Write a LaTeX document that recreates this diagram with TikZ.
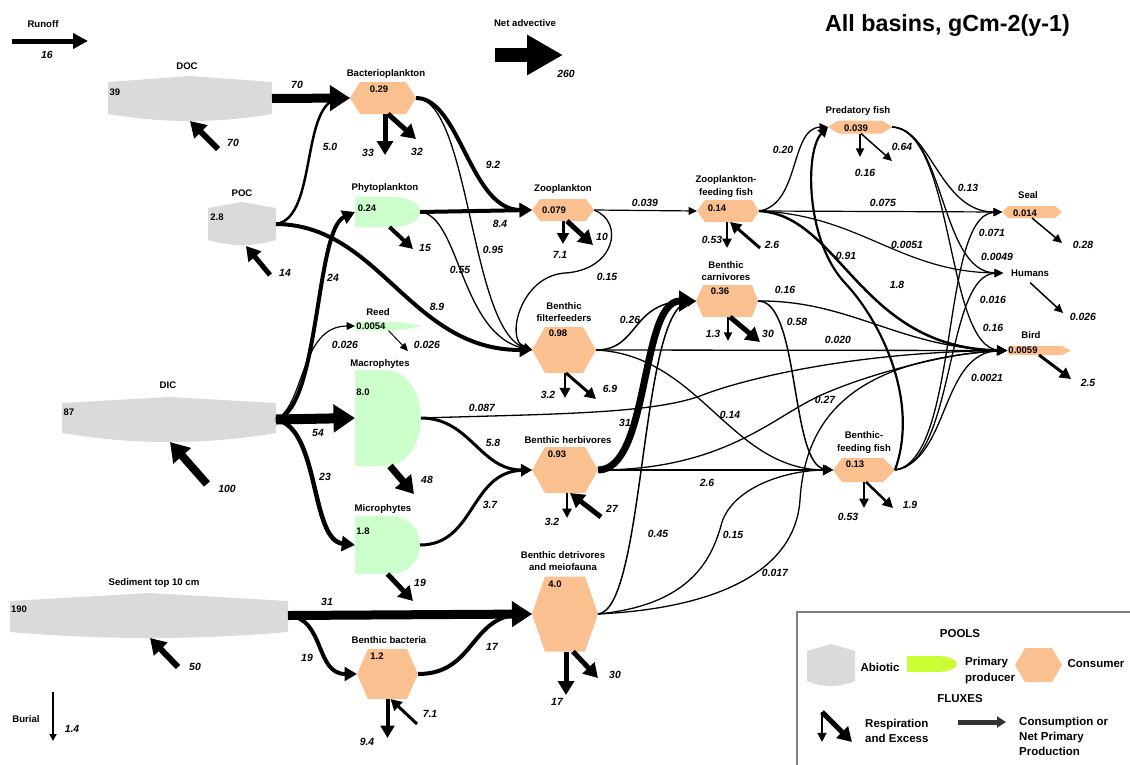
\documentclass[tikz,border=0pt]{standalone}
\usepackage{fontspec}
\setmainfont{Liberation Sans}
\usetikzlibrary{arrows.meta}
\definecolor{abio}{RGB}{218,218,218}
\definecolor{cons}{RGB}{250,192,143}
\definecolor{prod}{RGB}{204,255,204}
\definecolor{prodkey}{RGB}{204,255,51}
\definecolor{keyline}{RGB}{128,128,128}
\definecolor{keyarrow}{RGB}{51,51,51}

% hexagonal consumer pool: name, cx, cy, half width, half height, left tip, right tip
\newcommand\consumerpool[7]{%
  \fill[cons] ({#2-#4},#3) -- ({#2-#4+#6},{#3-#5}) -- ({#2+#4-#7},{#3-#5}) -- ({#2+#4},#3)
    -- ({#2+#4-#7},{#3+#5}) -- ({#2-#4+#6},{#3+#5}) -- cycle;
  \node[anchorbox, minimum width={2*#4pt}, minimum height={2*#5pt}] (#1) at (#2,#3) {};
}

\tikzset{
  anchorbox/.style={rectangle, draw=none, fill=none, inner sep=0pt, outer sep=0pt},
  flow/.style={draw=black, line width=1.3pt, -{Triangle[length=6.5pt 1.5, width=5pt 2.2]}},
  lw/.style={line width=#1},
  lab/.style={font=\fontsize{9.6}{11}\selectfont\bfseries, inner sep=0pt, text height=6.9pt, text depth=0pt},
  val/.style={font=\fontsize{9.5}{11}\selectfont\bfseries, inner sep=0pt, text height=6.8pt, text depth=0pt},
  flx/.style={font=\fontsize{10.4}{12}\selectfont\bfseries\itshape, inner sep=0pt, text height=7.5pt, text depth=0pt},
  keytxt/.style={font=\fontsize{11.5}{13}\selectfont\bfseries, inner sep=0pt, text height=8.3pt, text depth=0pt},
}

\begin{document}
\begin{tikzpicture}[x=1pt, y=-1pt]
\useasboundingbox (0,0) rectangle (1130,764);

% ---------- abiotic pools ----------
\fill[abio] (108,82) -- (190,76) -- (272,82) -- (272,114) .. controls (217,123.3) and (163,123.3) .. (108,114) -- cycle;
\node[anchorbox, minimum width=164pt, minimum height=45pt] (doc) at (190,98.5) {};
\fill[abio] (208,208) -- (242,202) -- (276,208) -- (276,240) .. controls (253,246.7) and (231,246.7) .. (208,240) -- cycle;
\node[anchorbox, minimum width=68pt, minimum height=44pt] (poc) at (242,224) {};
\fill[abio] (62,403) -- (169,397) -- (276,403) -- (276,433) .. controls (205,445) and (133,445) .. (62,433) -- cycle;
\node[anchorbox, minimum width=214pt, minimum height=45pt] (dic) at (169,419.5) {};
\fill[abio] (10,601) -- (149,593) -- (288,601) -- (288,632) .. controls (195,640) and (103,640) .. (10,632) -- cycle;
\node[anchorbox, minimum width=278pt, minimum height=45pt] (sed) at (149,615.5) {};

% ---------- primary producers ----------
\fill[prod] (355,197) -- (393,197) .. controls (410,197) and (420,204) .. (420,212) .. controls (420,220) and (410,227) .. (393,227) -- (355,227) -- cycle;
\node[anchorbox, minimum width=65pt, minimum height=30pt] (phyto) at (387.5,212) {};
\fill[prod] (355,321.5) -- (380,321.5) .. controls (400,321.5) and (414,324) .. (422,326) .. controls (414,328) and (400,330.5) .. (380,330.5) -- (355,330.5) -- cycle;
\node[anchorbox, minimum width=67pt, minimum height=9pt] (reed) at (388.5,326) {};
\fill[prod] (355,370) -- (385,370) .. controls (407,370) and (421,393) .. (421,418) .. controls (421,443) and (407,466) .. (385,466) -- (355,466) -- cycle;
\node[anchorbox, minimum width=66pt, minimum height=96pt] (macro) at (388,418) {};
\fill[prod] (355,516) -- (390,516) .. controls (408,516) and (420,529) .. (420,545) .. controls (420,561) and (408,574) .. (390,574) -- (355,574) -- cycle;
\node[anchorbox, minimum width=65pt, minimum height=58pt] (micro) at (387.5,545) {};

% ---------- consumers ----------
\consumerpool{bact}{383}{98}{33}{16}{10}{10}
\consumerpool{zoo}{563}{210}{31}{11}{8}{8}
\consumerpool{zff}{728}{211}{31}{11}{8}{7}
\consumerpool{pred}{860}{127}{32}{6.5}{10}{10}
\consumerpool{seal}{1032}{212}{30}{6}{6}{7}
\consumerpool{bird}{1039}{350.5}{32}{4.5}{2}{9}
\consumerpool{filt}{564}{350}{32}{23}{13}{13}
\consumerpool{carn}{727}{301}{31}{16}{7}{6}
\consumerpool{herb}{565}{470}{33}{23}{13}{13}
\consumerpool{bff}{864}{470}{31}{12}{9}{12}
\consumerpool{det}{565}{614}{33}{37.5}{13}{13}
\consumerpool{bbact}{387.5}{674}{30.5}{25}{11}{11}
\node[lab, anchor=west, inner xsep=8pt, inner ysep=0pt] (humans) at (1003,273) {Humans};

% ---------- consumption and production fluxes ----------
\draw[flow, lw=9pt] (doc.east) -- (bact.west);
\draw[flow, lw=2.5pt] (poc.east) .. controls (318,218) and (300,100) .. (bact.west);
\draw[flow, lw=4pt] (poc.east) .. controls (380,225) and (410,350) .. (filt.west);
\draw[flow, lw=4pt] (bact.east) .. controls (460,98) and (470,210) .. (zoo.west);
\draw[flow] (bact.east) .. controls (470,100) and (470,330) .. (filt.west);
\draw[flow, lw=4pt] (phyto.east) -- (zoo.west);
\draw[flow] (phyto.east) .. controls (460,215) and (460,335) .. (filt.west);
\draw[flow] (zoo.east) .. controls (625,222) and (615,270) .. (565,273) .. controls (520,276) and (505,340) .. (filt.west);
\draw[flow, lw=1.2pt] (zoo.east) -- (zff.west);
\draw[flow, lw=4pt] (dic.east) .. controls (320,410) and (315,230) .. (phyto.west);
\draw[flow, lw=1.2pt] (dic.east) .. controls (305,405) and (300,326) .. (reed.west);
\draw[flow, lw=10pt] (dic.east) -- (macro.west);
\draw[flow, lw=4.5pt] (dic.east) .. controls (320,428) and (310,540) .. (micro.west);
\draw[flow, lw=9pt] (sed.east) -- (det.west);
\draw[flow, lw=4pt] (sed.east) .. controls (325,618) and (315,674) .. (bbact.west);
\draw[flow, lw=4pt] (bbact.east) .. controls (475,674) and (470,616) .. (det.west);
\draw[flow, lw=3pt] (macro.east) .. controls (470,418) and (480,470) .. (herb.west);
\draw[flow] (macro.east) .. controls (550,414) and (650,414) .. (700,396) .. controls (740,380) and (850,352) .. (bird.west);
\draw[flow, lw=3pt] (micro.east) .. controls (475,545) and (470,472) .. (herb.west);
\draw[flow, lw=1.5pt] (filt.east) .. controls (640,350) and (630,301) .. (carn.west);
\draw[flow] (filt.east) -- (bird.west);
\draw[flow] (filt.east) .. controls (700,355) and (730,470) .. (bff.west);
\draw[flow, lw=1.5pt] (carn.east) .. controls (800,300) and (790,465) .. (bff.west);
\draw[flow] (carn.east) .. controls (850,300) and (900,348) .. (bird.west);
\draw[flow, lw=7pt] (herb.east) .. controls (650,470) and (640,301) .. (carn.west);
\draw[flow, lw=2.5pt] (herb.east) -- (bff.west);
\draw[flow] (herb.east) .. controls (720,470) and (770,420) .. (815,398) .. controls (860,376) and (950,352) .. (bird.west);
\draw[flow, lw=1.5pt] (det.east) .. controls (645,610) and (640,310) .. (carn.west);
\draw[flow] (det.east) .. controls (690,605) and (712,560) .. (722,522) .. controls (735,485) and (790,470) .. (bff.west);
\draw[flow] (det.east) .. controls (720,608) and (795,570) .. (800,500) .. controls (805,420) and (850,360) .. (bird.west);
\draw[flow] (zff.east) .. controls (800,205) and (790,128) .. (pred.west);
\draw[flow, lw=1.2pt] (zff.east) -- (seal.west);
\draw[flow, lw=1.2pt] (zff.east) .. controls (860,215) and (900,272) .. (humans.west);
\draw[flow, lw=2.5pt] (zff.east) .. controls (840,215) and (860,348) .. (bird.west);
\draw[flow, lw=2.2pt] (bff.east) .. controls (920,400) and (880,320) .. (845,283) .. controls (805,240) and (805,150) .. (pred.west);
\draw[flow] (pred.east) .. controls (930,127) and (940,212) .. (seal.west);
\draw[flow] (pred.east) .. controls (945,130) and (940,272) .. (humans.west);
\draw[flow] (pred.east) .. controls (955,130) and (945,348) .. (bird.west);
\draw[flow] (bff.east) .. controls (960,460) and (940,215) .. (seal.west);
\draw[flow] (bff.east) .. controls (955,465) and (945,275) .. (humans.west);
\draw[flow] (bff.east) .. controls (950,460) and (940,352) .. (bird.west);

% ---------- respiration, excess and import ----------
\coordinate (bact-r) at (385,155);   \coordinate (bact-e) at (416,139);
\coordinate (phyto-e) at (413,249);
\coordinate (zoo-r) at (563,244);    \coordinate (zoo-e) at (593,245);
\coordinate (zff-r) at (727,248);    \coordinate (zff-i) at (760,248);
\coordinate (pred-r) at (860,157);   \coordinate (pred-e) at (892,161);
\coordinate (filt-r) at (565,398);   \coordinate (filt-e) at (596,399);
\coordinate (carn-r) at (728,341);   \coordinate (carn-e) at (760,342);
\coordinate (herb-r) at (567,518);   \coordinate (herb-i) at (601,517);
\coordinate (bff-r) at (864,508);    \coordinate (bff-e) at (893,508);
\coordinate (det-r) at (566,695);    \coordinate (det-e) at (598,678);
\coordinate (bbact-r) at (387.5,738);\coordinate (bbact-i) at (417,724);
\coordinate (macro-e) at (414,494);
\coordinate (micro-e) at (413,601);
\coordinate (reed-e) at (408,351);
\coordinate (seal-e) at (1062,243);
\coordinate (bird-e) at (1071,379);
\coordinate (hum-e) at (1063,313);
\coordinate (doc-i) at (218,149);
\coordinate (poc-i) at (270,275);
\coordinate (dic-i) at (207,484);
\coordinate (sed-i) at (178,667);

\draw[flow, lw=5pt] ([xshift=2pt]bact.south) -- (bact-r);
\draw[flow, lw=5pt] ([xshift=5pt]bact.south) -- (bact-e);
\draw[flow, lw=4pt] ([xshift=2pt]phyto.south) -- (phyto-e);
\draw[flow, lw=3pt] (zoo.south) -- (zoo-r);
\draw[flow, lw=5pt] ([xshift=4pt]zoo.south) -- (zoo-e);
\draw[flow, lw=2pt] ([xshift=-1pt]zff.south) -- (zff-r);
\draw[flow, lw=3pt] (zff-i) -- ([xshift=2pt]zff.south);
\draw[flow, lw=1.5pt] (pred.south) -- (pred-r);
\draw[flow, lw=1.5pt] ([xshift=1pt]pred.south) -- (pred-e);
\draw[flow, lw=2.5pt] ([xshift=1pt]filt.south) -- (filt-r);
\draw[flow, lw=3pt] ([xshift=2pt]filt.south) -- (filt-e);
\draw[flow, lw=1.5pt] ([xshift=1pt]carn.south) -- (carn-r);
\draw[flow, lw=5pt] ([xshift=3pt]carn.south) -- (carn-e);
\draw[flow, lw=2pt] ([xshift=2pt]herb.south) -- (herb-r);
\draw[flow, lw=5pt] (herb-i) -- ([xshift=5pt]herb.south);
\draw[flow, lw=2pt] (bff.south) -- (bff-r);
\draw[flow, lw=2.5pt] ([xshift=2pt]bff.south) -- (bff-e);
\draw[flow, lw=5pt] ([xshift=1pt]det.south) -- (det-r);
\draw[flow, lw=5pt] ([xshift=8pt]det.south) -- (det-e);
\draw[flow, lw=4pt] (bbact.south) -- (bbact-r);
\draw[flow, lw=3pt] (bbact-i) -- ([xshift=3pt]bbact.south);
\draw[flow, lw=7pt] ([xshift=2pt]macro.south) -- (macro-e);
\draw[flow, lw=5pt] (micro.south) -- (micro-e);
\draw[flow, lw=1pt] (reed.south) -- (reed-e);
\draw[flow, lw=1.5pt] (seal.south) -- (seal-e);
\draw[flow, lw=3pt] (bird.south) -- (bird-e);
\draw[flow, lw=1.5pt] ([yshift=-6pt]humans.south) -- (hum-e);
\draw[flow, lw=6pt] (doc-i) -- (doc.south);
\draw[flow, lw=5pt] (poc-i) -- ([xshift=4pt]poc.south);
\draw[flow, lw=8pt] (dic-i) -- ([xshift=1pt]dic.south);
\draw[flow, lw=6pt] (sed-i) -- ([xshift=1pt]sed.south);

% ---------- boundary fluxes ----------
\coordinate (runoff0) at (12,41);  \coordinate (runoff1) at (88,41);
\draw[lw=5pt, -{Triangle[length=15pt, width=15pt]}] (runoff0) -- (runoff1);
\coordinate (adv0) at (495,55);    \coordinate (adv1) at (563,55);
\draw[lw=14pt, -{Triangle[length=36pt, width=38pt]}] (adv0) -- (adv1);
\coordinate (burial0) at (53,692); \coordinate (burial1) at (53,741);
\draw[lw=2pt, -{Triangle[length=7pt, width=7pt]}] (burial0) -- (burial1);

% ---------- pool names and stocks ----------
\node[anchor=base east, inner sep=0pt, font=\fontsize{23.3}{27}\selectfont\bfseries] (title) at (1070,31) {All basins, gCm-2(y-1)};
\node[lab] (l-runoff) at (43,24) {Runoff};
\node[lab] (l-adv) at (525,23) {Net advective};
\node[lab] (l-burial) at (26,719) {Burial};
\node[lab] (l-doc) at (187,66) {DOC};        \node[val] (v-doc) at (115,92) {39};
\node[lab] (l-poc) at (242,193) {POC};       \node[val] (v-poc) at (217,217) {2.8};
\node[lab] (l-dic) at (168,385) {DIC};       \node[val] (v-dic) at (69,412) {87};
\node[lab] (l-sed) at (154,582) {Sediment top 10 cm}; \node[val] (v-sed) at (19,609) {190};
\node[lab] (l-bact) at (386,73) {Bacterioplankton}; \node[val] (v-bact) at (379,89) {0.29};
\node[lab] (l-phyto) at (385,187) {Phytoplankton}; \node[val] (v-phyto) at (367,208) {0.24};
\node[lab] (l-reed) at (378,312) {Reed};     \node[val] (v-reed) at (371,326) {0.0054};
\node[lab] (l-macro) at (380,363) {Macrophytes}; \node[val] (v-macro) at (363,392) {8.0};
\node[lab] (l-micro) at (383,508) {Microphytes}; \node[val] (v-micro) at (363,531) {1.8};
\node[lab] (l-bbact) at (389,640) {Benthic bacteria}; \node[val] (v-bbact) at (377,656) {1.2};
\node[lab] (l-zoo) at (563,188) {Zooplankton}; \node[val] (v-zoo) at (554,210) {0.079};
\node[lab] (l-filt1) at (564,306) {Benthic}; \node[lab] (l-filt2) at (564,318) {filterfeeders};
\node[val] (v-filt) at (558,333) {0.98};
\node[lab] (l-herb) at (568,440) {Benthic herbivores}; \node[val] (v-herb) at (557,454) {0.93};
\node[lab] (l-det1) at (563,555) {Benthic detrivores}; \node[lab] (l-det2) at (563,567) {and meiofauna};
\node[val] (v-det) at (555,584) {4.0};
\node[lab] (l-zff1) at (726,179) {Zooplankton-}; \node[lab] (l-zff2) at (726,192) {feeding fish};
\node[val] (v-zff) at (717,208) {0.14};
\node[lab] (l-carn1) at (726,265) {Benthic}; \node[lab] (l-carn2) at (726,277) {carnivores};
\node[val] (v-carn) at (720,291) {0.36};
\node[lab] (l-pred) at (858,110) {Predatory fish}; \node[val] (v-pred) at (856,128) {0.039};
\node[lab] (l-bff1) at (864,435) {Benthic-}; \node[lab] (l-bff2) at (864,448) {feeding fish};
\node[val] (v-bff) at (855,464) {0.13};
\node[lab] (l-seal) at (1028,195) {Seal};    \node[val] (v-seal) at (1025,213) {0.014};
\node[lab] (l-bird) at (1031,335) {Bird};    \node[val] (v-bird) at (1023,350) {0.0059};

% ---------- flux values ----------
\foreach \n/\x/\y/\t in {
  1/297/85/70, 2/330/147/5.0, 3/368/153/33, 4/417/152/32, 5/493/165/9.2, 6/500/224/8.4,
  7/493/250/0.95, 8/425/248/15, 9/460/270/0.55, 10/437/307/8.9, 11/333/278/24, 12/345/345/0.026,
  13/427/345/0.026, 14/318/433/54, 15/325/477/23, 16/427/480/48, 17/493/443/5.8, 18/482/408/0.087,
  19/490/505/3.7, 20/420/583/19, 21/327/602/31, 22/307/658/19, 23/492/647/17, 24/367/742/9.4,
  25/430/714/7.1, 26/560/255/7.1, 27/602/237/10, 28/607/277/0.15, 29/645/203/0.039, 30/548/395/3.2,
  31/610/389/6.9, 32/630/320/0.26, 33/625/423/31, 34/552/522/3.2, 35/612/509/27, 36/658/534/0.45,
  37/733/535/0.15, 38/775/573/0.017, 39/557/702/17, 40/615/675/30, 41/712/240/0.53, 42/772/245/2.6,
  43/783/150/0.20, 44/713/334/1.3, 45/768/334/30, 46/785/290/0.16, 47/797/322/0.58, 48/838/340/0.020,
  49/730/415/0.14, 50/825/400/0.27, 51/707/483/2.6, 52/846/256/0.91, 53/897/285/1.8, 54/865/173/0.16,
  55/902/147/0.64, 56/968/188/0.13, 57/883/203/0.075, 58/907/245/0.0051, 59/992/233/0.071,
  60/997/257/0.0049, 61/993/300/0.016, 62/993/328/0.16, 63/987/378/0.0021, 64/1083/245/0.28,
  65/1083/317/0.026, 66/1088/383/2.5, 67/848/517/0.53, 68/910/505/1.9, 69/47/55/16, 70/566/74/260,
  71/233/143/70, 72/285/273/14, 73/227/489/100, 74/195/667/50, 75/72/729/1.4}
  \node[flx] (f\n) at (\x,\y) {\t};

% ---------- key ----------
\draw[keyline, lw=1.5pt] (1131,612) -- (797,612) -- (797,766);
\node[keytxt] (k-pools) at (960,633) {POOLS};
\fill[abio] (807,651) -- (831,644) -- (855,651) -- (855,681) .. controls (839,687.7) and (823,687.7) .. (807,681) -- cycle;
\node[anchorbox, minimum width=48pt, minimum height=42pt] (k-abio) at (831,665) {};
\node[keytxt] (k-abio-t) at (880,667) {Abiotic};
\fill[prodkey] (907,656) -- (935,656) .. controls (950,656) and (957,660) .. (957,664) .. controls (957,668) and (950,672) .. (935,672) -- (907,672) -- cycle;
\node[anchorbox, minimum width=50pt, minimum height=16pt] (k-prod) at (932,664) {};
\node[keytxt, anchor=west] (k-prod-t1) at (965,661) {Primary};
\node[keytxt, anchor=west] (k-prod-t2) at (965,677) {producer};
\consumerpool{k-cons}{1038.5}{665}{23.5}{17}{10}{10}
\node[keytxt] (k-cons-t) at (1096,663) {Consumer};
\node[keytxt] (k-flux) at (960,698) {FLUXES};
\coordinate (k-r0) at (822,712); \coordinate (k-r1) at (822,742); \coordinate (k-e1) at (852,742);
\draw[flow, lw=1.8pt] (k-r0) -- (k-r1);
\draw[flow, lw=5pt] (k-r0) -- (k-e1);
\node[keytxt, anchor=west] (k-resp1) at (865,723) {Respiration};
\node[keytxt, anchor=west] (k-resp2) at (865,738) {and Excess};
\coordinate (k-c0) at (958,722); \coordinate (k-c1) at (1006,722);
\draw[keyarrow, lw=5pt, -{Triangle[length=9pt, width=11pt]}] (k-c0) -- (k-c1);
\node[keytxt, anchor=west] (k-cons1) at (1019,721) {Consumption or};
\node[keytxt, anchor=west] (k-cons2) at (1019,736) {Net Primary};
\node[keytxt, anchor=west] (k-cons3) at (1019,751) {Production};
\end{tikzpicture}
\end{document}
